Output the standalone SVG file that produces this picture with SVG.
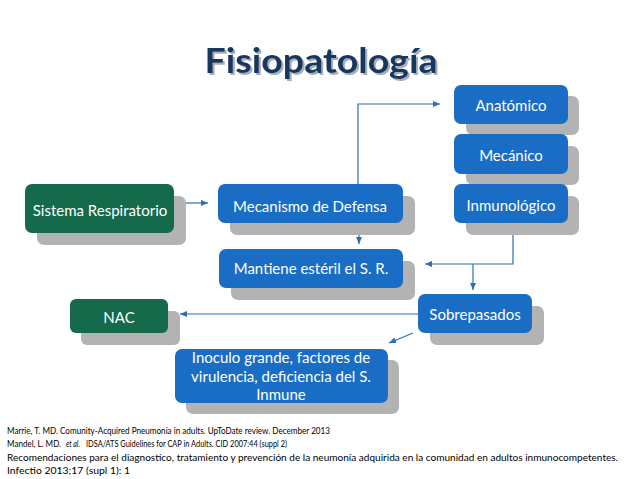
<svg xmlns="http://www.w3.org/2000/svg" width="638" height="479" viewBox="0 0 638 479">
<defs>
<style>
.sh{fill:#b3b3b3}
.bl{fill:#1a6dc5}
.gr{fill:#146a4b}
.t{font-family:Lato,"Open Sans","Liberation Sans",sans-serif;font-size:15px;fill:#ffffff;text-anchor:middle}
.ref{font-family:Lato,"Liberation Sans",sans-serif;font-size:10px;fill:#000000}
.c{stroke:#2f6fb0;stroke-width:1.2;fill:none}
</style>
<filter id="tsh" x="-5%" y="-20%" width="110%" height="140%">
<feDropShadow dx="2" dy="2" stdDeviation="0.6" flood-color="#8f9aab" flood-opacity="0.8"/>
</filter>
<marker id="ah" markerWidth="8" markerHeight="8" refX="7" refY="4" orient="auto" markerUnits="userSpaceOnUse">
<path d="M0,1 L7,4 L0,7 Z" fill="#2f6fb0"/>
</marker>
</defs>
<rect width="638" height="479" fill="#ffffff"/>
<g id="title">
<text x="321" y="73" font-family="Lato,'Open Sans','Liberation Sans',sans-serif" font-size="34" font-weight="bold" fill="#17375e" text-anchor="middle" textLength="233" lengthAdjust="spacingAndGlyphs" filter="url(#tsh)">Fisiopatología</text>
</g>
<g id="connectors">
<line class="c" x1="176" y1="203" x2="208" y2="203" marker-end="url(#ah)"/>
<polyline class="c" points="358,184 358,104 440,104" marker-end="url(#ah)"/>
<line class="c" x1="359" y1="223" x2="359" y2="244" marker-end="url(#ah)"/>
<polyline class="c" points="513,223 513,264 425,264" marker-end="url(#ah)"/>
<line class="c" x1="473" y1="264" x2="473" y2="290" marker-end="url(#ah)"/>
<line class="c" x1="418" y1="314" x2="180" y2="314" marker-end="url(#ah)"/>
<line class="c" x1="413" y1="333" x2="389" y2="343" marker-end="url(#ah)"/>
</g>
<g id="sistema">
<rect class="sh" x="37" y="196" width="149" height="49" rx="7"/>
<rect class="gr" x="25" y="184" width="149" height="49" rx="7"/>
<text class="t" x="100" y="216">Sistema Respiratorio</text>
</g>
<g id="mecanismo">
<rect class="sh" x="230" y="196" width="185" height="39" rx="7"/>
<rect class="bl" x="218" y="184" width="185" height="39" rx="7"/>
<text class="t" x="310" y="212">Mecanismo de Defensa</text>
</g>
<g id="anatomico">
<rect class="sh" x="466" y="96" width="113" height="39" rx="7"/>
<rect class="bl" x="454" y="85" width="114" height="39" rx="7"/>
<text class="t" x="511" y="111">Anatómico</text>
</g>
<g id="mecanico">
<rect class="sh" x="466" y="146" width="113" height="39" rx="7"/>
<rect class="bl" x="454" y="134" width="114" height="40" rx="7"/>
<text class="t" x="511" y="161">Mecánico</text>
</g>
<g id="inmunologico">
<rect class="sh" x="466" y="196" width="113" height="39" rx="7"/>
<rect class="bl" x="454" y="184" width="114" height="39" rx="7"/>
<text class="t" x="511" y="211">Inmunológico</text>
</g>
<g id="mantiene">
<rect class="sh" x="231" y="261" width="184" height="39" rx="7"/>
<rect class="bl" x="219" y="249" width="184" height="39" rx="7"/>
<text class="t" x="311" y="274">Mantiene estéril  el S. R.</text>
</g>
<g id="sobrepasados">
<rect class="sh" x="430" y="306" width="114" height="39" rx="7"/>
<rect class="bl" x="418" y="294" width="114" height="39" rx="7"/>
<text class="t" x="475" y="320">Sobrepasados</text>
</g>
<g id="nac">
<rect class="sh" x="81" y="311" width="99" height="34" rx="6"/>
<rect class="gr" x="70" y="299" width="98" height="34" rx="6"/>
<text class="t" x="119" y="323">NAC</text>
</g>
<g id="inoculo">
<rect class="sh" x="186" y="360" width="213" height="54" rx="7"/>
<rect class="bl" x="175" y="349" width="213" height="54" rx="7"/>
<text class="t" x="281" y="363">Inoculo grande, factores de</text>
<text class="t" x="281" y="382">virulencia, deficiencia del S.</text>
<text class="t" x="281" y="400">Inmune</text>
</g>
<g id="refs">
<text class="ref" x="7" y="434" textLength="323" lengthAdjust="spacingAndGlyphs">Marrie, T. MD. Comunity-Acquired Pneumonia in adults. UpToDate review. December 2013</text>
<text class="ref" x="7" y="447" textLength="54" lengthAdjust="spacingAndGlyphs">Mandel, L.  MD.</text>
<text class="ref" x="66" y="447" font-style="italic" textLength="14" lengthAdjust="spacingAndGlyphs">et al.</text>
<text class="ref" x="86" y="447" textLength="201" lengthAdjust="spacingAndGlyphs">IDSA/ATS Guidelines for CAP in Adults. CID 2007:44 (suppl 2)</text>
<text class="ref" x="7" y="461" textLength="611" lengthAdjust="spacingAndGlyphs">Recomendaciones para el diagnostico, tratamiento y prevención de la neumonía adquirida en la comunidad en adultos inmunocompetentes.</text>
<text class="ref" x="7" y="474" textLength="123" lengthAdjust="spacingAndGlyphs">Infectio 2013;17 (supl 1): 1</text>
</g>
</svg>
